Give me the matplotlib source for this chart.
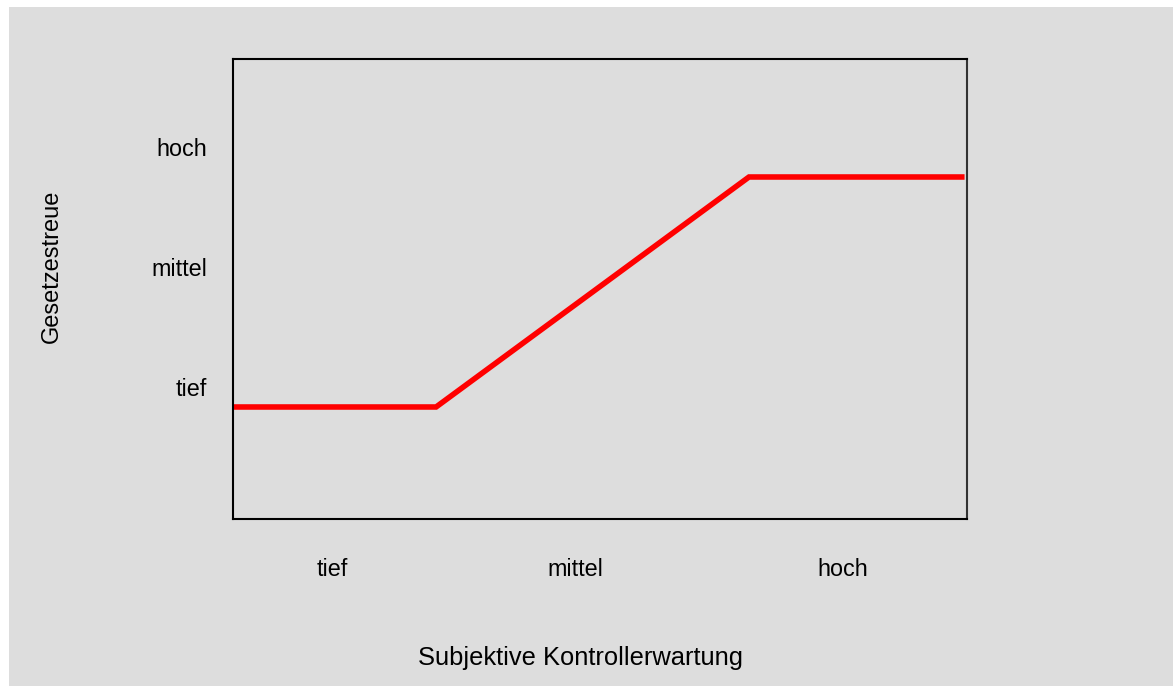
import matplotlib
matplotlib.use("Agg")
import matplotlib.pyplot as plt
from matplotlib.patches import Rectangle

plt.rcParams['font.family'] = ['Liberation Sans', 'DejaVu Sans']

# Data
x_ticks = [0.405, 1.398, 2.493]
x_labels = ['tief', 'mittel', 'hoch']
y_ticks = [1.148, 2.19, 3.235]
y_labels = ['tief', 'mittel', 'hoch']
line_x = [0.0, 0.83, 2.109, 2.99]
line_y = [0.974, 0.974, 2.974, 2.974]

W, H = 1173, 686
fig = plt.figure(figsize=(W / 100, H / 100), dpi=100, facecolor='white')
bg = '#dddddd'
fig.patches.append(Rectangle((9 / W, 0), 1 - 9 / W, 1 - 7 / H, transform=fig.transFigure,
                             facecolor=bg, edgecolor='none', zorder=-10))

ax = fig.add_axes([233 / W, 1 - 519 / H, (967 - 233) / W, (519 - 59) / H])
ax.set_zorder(1)
ax.set_facecolor(bg)
ax.plot(line_x, line_y, color='#ff0000', lw=4, solid_capstyle='butt', solid_joinstyle='miter')
ax.set_xlim(0, 3)
ax.set_ylim(0, 4)
ax.set_xticks(x_ticks)
ax.set_xticklabels(x_labels, fontsize=16.8)
ax.set_yticks(y_ticks)
ax.set_yticklabels(y_labels, fontsize=16.8)
ax.tick_params(length=0)
ax.tick_params(axis='x', pad=28)
ax.tick_params(axis='y', pad=18.5)
for s in ax.spines.values():
    s.set_color('black')
    s.set_linewidth(1.5)
ax.spines['right'].set_color('#333333')

fig.text(581 / W, 1 - 658 / H, 'Subjektive Kontrollerwartung', ha='center', va='center', fontsize=18.4)
fig.text(52 / W, 1 - 266 / H, 'Gesetzestreue', ha='center', va='center', rotation=90, fontsize=17)

fig.savefig('out.png', dpi=100, facecolor=fig.get_facecolor())
